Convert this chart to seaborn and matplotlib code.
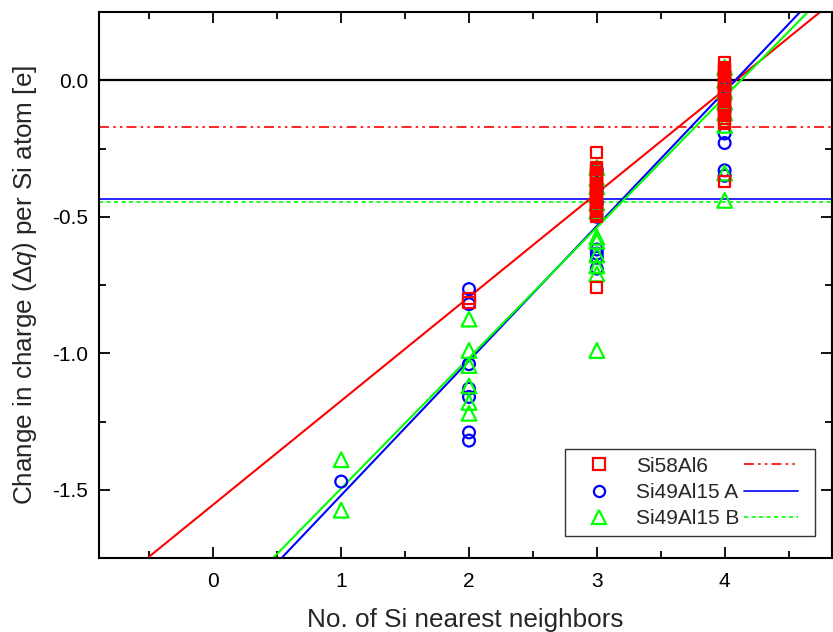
import numpy as np
import pandas as pd
import matplotlib
matplotlib.use("Agg")
import matplotlib.pyplot as plt
import seaborn as sns
from matplotlib.lines import Line2D
from matplotlib.legend_handler import HandlerLine2D
from matplotlib.ticker import MultipleLocator

# ---------------- data ----------------
series_names = ["Si58Al6", "Si49Al15 A", "Si49Al15 B"]

# Si58Al6 values grouped by number of Si nearest neighbors
red_n2 = [-0.80, -0.815]
red_n3 = [-0.265, -0.32, -0.328, -0.337, -0.345, -0.352, -0.36, -0.369, -0.377,
          -0.385, -0.392, -0.40, -0.409, -0.418, -0.425, -0.433, -0.44, -0.449,
          -0.457, -0.465, -0.472, -0.48, -0.49, -0.50, -0.76]
red_n4 = [0.066, 0.045, 0.038, 0.03, 0.021, 0.013, 0.005, -0.003, -0.012, -0.02,
          -0.028, -0.037, -0.045, -0.053, -0.061, -0.07, -0.078, -0.087, -0.095,
          -0.104, -0.112, -0.12, -0.13, -0.14, -0.15, -0.158, -0.37]

# Si49Al15 A
blue_n1 = [-1.47]
blue_n2 = [-0.765, -0.82, -1.04, -1.13, -1.16, -1.29, -1.32]
blue_n3 = [-0.33, -0.40, -0.45, -0.50, -0.62, -0.635, -0.65, -0.69]
blue_n4 = [0.025, 0.0, -0.03, -0.07, -0.11, -0.195, -0.23, -0.33, -0.35]

# Si49Al15 B
green_n1 = [-1.39, -1.575]
green_n2 = [-0.875, -0.99, -1.045, -1.12, -1.18, -1.22]
green_n3 = [-0.32, -0.36, -0.39, -0.45, -0.48, -0.575, -0.59, -0.64, -0.68, -0.71, -0.99]
green_n4 = [0.047, 0.0, -0.04, -0.08, -0.12, -0.165, -0.34, -0.44]

# linear fits (slope, intercept) and averages
fit_slope = [0.380, 0.493, 0.478]
fit_intercept = [-1.554, -2.013, -1.973]
avg_values = [-0.172, -0.436, -0.446]

colors = ["#FF0000", "#0000FF", "#00FF00"]
markers = ["s", "o", "^"]
marker_sizes = [66, 72, 112]
avg_styles = [(0, (6, 2.5, 1.5, 2.5, 1.5, 2.5)), "-", (0, (2.5, 2.0))]

xticks = [0, 1, 2, 3, 4]
yticks = [0.0, -0.5, -1.0, -1.5]
xlim = (-0.895, 4.84)
ylim = (-1.75, 0.25)


def to_frame(groups):
    rows = []
    for n, vals in groups:
        for v in vals:
            rows.append((n, v))
    return pd.DataFrame(rows, columns=["x", "y"])


df_red = to_frame([(2, red_n2), (3, red_n3), (4, red_n4)])
df_blue = to_frame([(1, blue_n1), (2, blue_n2), (3, blue_n3), (4, blue_n4)])
df_green = to_frame([(1, green_n1), (2, green_n2), (3, green_n3), (4, green_n4)])
frames = [df_red, df_blue, df_green]

# ---------------- style ----------------
sns.set_theme(style="ticks")
plt.rcParams["font.family"] = ["Liberation Sans", "DejaVu Sans"]
plt.rcParams["mathtext.fontset"] = "custom"
plt.rcParams["mathtext.rm"] = "Liberation Sans"
plt.rcParams["mathtext.it"] = "Liberation Sans:italic"

fig = plt.figure(figsize=(8.33, 6.32), dpi=100)
ax = fig.add_axes([99 / 833, 1 - 558 / 632, (832 - 99) / 833, (558 - 12) / 632])

# average lines and zero line
ax.axhline(0.0, color="black", lw=1.6, zorder=1)
for val, c, ls in zip(avg_values, colors, avg_styles):
    ax.axhline(val, color=c, lw=1.2, ls=ls, zorder=1)

# fit lines
xx = np.linspace(xlim[0] - 0.1, xlim[1] + 0.1, 50)
for sl, ic, c in zip(fit_slope, fit_intercept, colors):
    df_fit = pd.DataFrame({"x": xx, "y": sl * xx + ic})
    sns.lineplot(data=df_fit, x="x", y="y", color=c, lw=1.5, ax=ax, zorder=2)

# scatter points (red drawn last / on top)
for i in [1, 2, 0]:
    sns.scatterplot(data=frames[i], x="x", y="y", marker=markers[i], s=marker_sizes[i],
                    facecolor="none", edgecolor=colors[i], linewidth=1.6,
                    ax=ax, zorder=3 + (1 if i == 0 else 0))

ax.set_xlim(*xlim)
ax.set_ylim(*ylim)
ax.set_xticks(xticks)
ax.set_yticks(yticks)
ax.set_yticklabels([f"{v:.1f}" for v in yticks])
ax.xaxis.set_minor_locator(MultipleLocator(0.5))
ax.yaxis.set_minor_locator(MultipleLocator(0.25))
ax.tick_params(which="both", direction="in", top=True, right=True,
               labelsize=15, width=1.3, colors="black", pad=8)
ax.tick_params(axis="x", which="both", pad=10)
ax.tick_params(which="major", length=8)
ax.tick_params(which="minor", length=5)
for sp in ax.spines.values():
    sp.set_linewidth(1.5)
    sp.set_color("black")

ax.set_xlabel("No. of Si nearest neighbors", fontsize=18.8, labelpad=12)
ax.set_ylabel("Change in charge (Δ$q$) per Si atom [e]", fontsize=18.8, labelpad=9)


# legend: marker, label, line sample
class RightMarkerHandler(HandlerLine2D):
    def get_xdata(self, legend, xdescent, ydescent, width, height, fontsize):
        xdata = [-xdescent, -xdescent + width]
        return xdata, [-xdescent + 0.82 * width]


mk_handles = [Line2D([], [], ls="none", marker=m, markersize=8 if m != "^" else 10,
                     markerfacecolor="none", markeredgecolor=c, markeredgewidth=1.6)
              for m, c in zip(markers, colors)]
ln_handles = [Line2D([], [], color=c, lw=1.2, ls=ls) for c, ls in zip(colors, avg_styles)]
hmap = {h: RightMarkerHandler(numpoints=1) for h in mk_handles}
leg = ax.legend(mk_handles + ln_handles, series_names + ["", "", ""], ncol=2,
                loc="lower right", bbox_to_anchor=(0.977, 0.041), borderaxespad=0,
                fontsize=15, frameon=True, fancybox=False, handlelength=2.6,
                handletextpad=0.45, columnspacing=0.25, labelspacing=0.35,
                borderpad=0.35, handler_map=hmap)
leg.get_frame().set_edgecolor("black")
leg.get_frame().set_linewidth(1.0)

fig.savefig("out.png", dpi=100)
